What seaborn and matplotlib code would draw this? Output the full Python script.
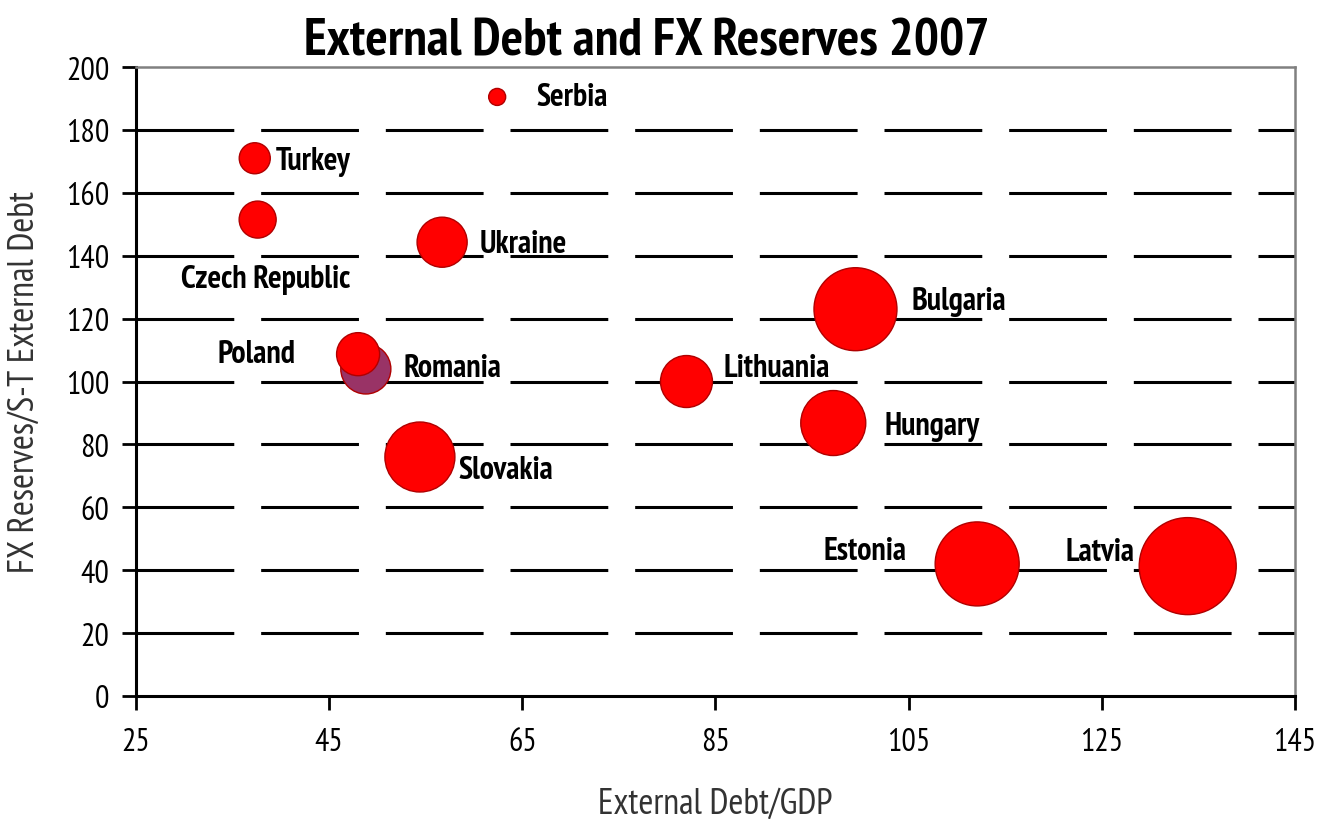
#external debt vs fx reserves bubble chart
import pandas as pd
import matplotlib
matplotlib.use("Agg")
import matplotlib.pyplot as plt
from matplotlib import font_manager
import seaborn as sns

# --- data ---
countries = ["Serbia", "Turkey", "Czech Republic", "Ukraine", "Bulgaria", "Romania",
             "Poland", "Lithuania", "Hungary", "Slovakia", "Estonia", "Latvia"]
ext_debt_gdp = [62.4, 37.3, 37.6, 56.7, 99.5, 48.8, 48.0, 82.0, 97.2, 54.4, 112.1, 133.9]
fx_reserves_st = [190.5, 171.0, 151.5, 144.3, 123.0, 104.0, 108.7, 100.0, 86.8, 76.0, 42.0, 41.3]
bubble = [150, 500, 710, 1300, 3570, 1300, 960, 1400, 2190, 2540, 3660, 4880]

x_ticks = [25, 45, 65, 85, 105, 125, 145]
y_ticks = [0, 20, 40, 60, 80, 100, 120, 140, 160, 180, 200]

# label offsets in points relative to each bubble (layout, not data)
label_offsets = {
    "Serbia": (28, 0, "left"), "Turkey": (15, -2, "left"),
    "Czech Republic": (6, -43, "center"), "Ukraine": (27, -1, "left"),
    "Bulgaria": (40, 6, "left"), "Poland": (-45, 0, "right"),
    "Romania": (27, 1, "left"), "Lithuania": (27, 10, "left"),
    "Hungary": (37, -2, "left"), "Slovakia": (28, -9, "left"),
    "Estonia": (-51, 9, "right"), "Latvia": (-38, 10, "right"),
}

df = pd.DataFrame({"country": countries, "debt": ext_debt_gdp,
                   "reserves": fx_reserves_st, "bubble": bubble})

sns.set_theme(style="white")
installed = {f.name for f in font_manager.fontManager.ttflist}
candidates = ["Liberation Sans Narrow", "PT Sans Narrow", "Barlow Semi Condensed",
              "Asap Condensed"]
narrow = next((c for c in candidates if c in installed), "DejaVu Sans")
print("using font:", narrow)
plt.rcParams["font.family"] = [narrow, "DejaVu Sans"]

fig = plt.figure(figsize=(13.2, 8.2), dpi=100)
ax = fig.add_axes([0.103, 0.15, 0.878, 0.767])

palette = {c: "#FF0000" for c in countries}
palette["Romania"] = "#993366"
sns.scatterplot(data=df, x="debt", y="reserves", hue="country", palette=palette,
                size="bubble", sizes=(min(bubble), max(bubble)),
                size_norm=(min(bubble), max(bubble)),
                edgecolor="#B00000", linewidth=1.0, alpha=1.0,
                legend=False, ax=ax, zorder=3)

for _, row in df.iterrows():
    dx, dy, ha = label_offsets[row["country"]]
    ax.annotate(row["country"], (row["debt"], row["reserves"]),
                xytext=(dx, dy), textcoords="offset points",
                ha=ha, va="center", fontsize=23, fontweight="bold",
                color="black", zorder=4)

ax.set_xlim(25, 145)
ax.set_ylim(0, 200)
ax.set_xticks(x_ticks)
ax.set_yticks(y_ticks)
ax.tick_params(axis="both", direction="out", length=10, width=2,
               labelsize=23, color="black", labelcolor="black")
ax.tick_params(axis="x", pad=12)
ax.tick_params(axis="y", pad=9)
ax.xaxis.set_ticks_position("bottom")
ax.yaxis.set_ticks_position("left")

# dashed horizontal gridlines
for yv in y_ticks[1:-1]:
    ax.axhline(yv, color="black", linewidth=2.2, linestyle=(0, (32, 8.8)), zorder=1)

for side in ["left", "bottom"]:
    ax.spines[side].set_color("black")
    ax.spines[side].set_linewidth(2.2)
for side in ["top", "right"]:
    ax.spines[side].set_color("#808080")
    ax.spines[side].set_linewidth(1.8)

ax.set_xlabel("External Debt/GDP", fontsize=26, color="#333333", labelpad=22)
ax.set_ylabel("FX Reserves/S-T External Debt", fontsize=26, color="#333333", labelpad=18)
fig.suptitle("External Debt and FX Reserves 2007", fontsize=38, fontweight="bold",
             x=0.49, y=0.978, color="black")

plt.savefig("out.png", dpi=100)
plt.close(fig)
